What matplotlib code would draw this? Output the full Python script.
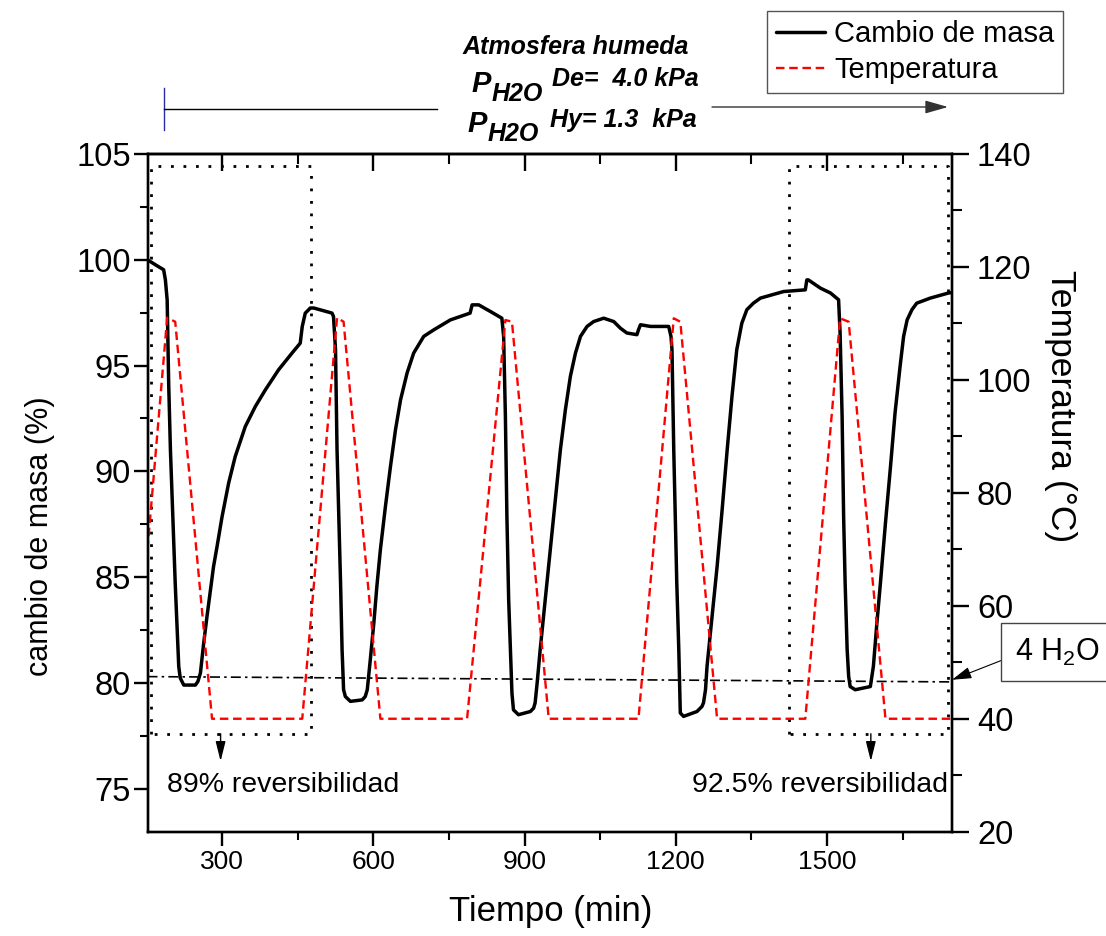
import numpy as np
import matplotlib.pyplot as plt
from matplotlib.lines import Line2D
from matplotlib.patches import FancyArrowPatch
from matplotlib.ticker import MultipleLocator

plt.rcParams['font.family'] = ['Liberation Sans', 'DejaVu Sans']
plt.rcParams['mathtext.fontset'] = 'custom'
plt.rcParams['mathtext.rm'] = 'Liberation Sans'
plt.rcParams['mathtext.sf'] = 'Liberation Sans'

# cambio de masa (%) vs tiempo (min), un tramo por ciclo
t_c1 = [152, 168, 184, 187.5, 191, 194, 197.5, 207, 214, 217, 224, 247, 252, 257, 263.5, 270, 277, 283, 290, 300,
        313, 326, 346, 366, 386, 412, 439, 455, 459, 465, 475, 482, 518]
m_c1 = [100.0, 99.76, 99.53, 99.05, 98.1, 94.17, 91.0, 84.7, 80.77, 80.23, 79.9, 79.9, 80.07, 80.47, 81.89, 83.14, 84.4, 85.5, 86.45, 87.87,
        89.45, 90.7, 92.12, 93.07, 93.86, 94.8, 95.6, 96.06, 96.85, 97.48, 97.72, 97.72, 97.48]
t_c2 = [521, 525, 528, 535, 538, 541, 544.5, 554.5, 578, 584, 588, 594, 601, 607, 614, 624, 634, 644, 654, 667,
        680, 700, 720, 753, 792, 796, 809, 832, 855, 858.5]
m_c2 = [97.32, 95.75, 91.02, 84.72, 81.57, 79.68, 79.36, 79.13, 79.2, 79.36, 79.68, 81.1, 82.83, 84.56, 86.3, 88.34, 90.23, 91.97, 93.38, 94.65,
        95.59, 96.38, 96.69, 97.16, 97.48, 97.87, 97.87, 97.56, 97.24, 96.38]
t_c3 = [862, 865, 868.5, 872, 875, 878, 888, 911.5, 918, 921, 925, 931, 941, 951, 961, 971, 981, 991, 1001, 1011,
        1024, 1037, 1057, 1077, 1090, 1103, 1123, 1126, 1130, 1150, 1186, 1190.5]
m_c3 = [92.6, 87.87, 83.93, 81.57, 79.52, 78.73, 78.5, 78.65, 78.81, 79.06, 80.0, 81.57, 83.93, 86.3, 88.66, 91.0, 92.91, 94.5, 95.59, 96.38,
        96.85, 97.08, 97.24, 97.08, 96.77, 96.54, 96.46, 96.69, 96.93, 96.85, 96.85, 96.38]
t_c4 = [1192.5, 1196, 1202, 1206, 1209, 1215.5, 1242, 1252, 1255, 1259, 1262, 1272, 1282, 1292, 1302, 1311.5, 1321, 1331, 1341, 1354,
        1368, 1414, 1457, 1460]
m_c4 = [95.75, 91.02, 84.74, 81.57, 78.58, 78.42, 78.65, 78.89, 79.06, 79.68, 80.78, 83.14, 85.5, 88.19, 91.02, 93.54, 95.75, 97.0, 97.64, 97.95,
        98.19, 98.5, 98.58, 99.05]
t_c5 = [1463, 1487, 1507, 1523, 1526, 1530, 1533, 1536, 1540, 1543, 1546, 1556, 1586, 1592, 1599, 1606, 1616, 1626, 1635, 1645,
        1652, 1659, 1668.5, 1678, 1705, 1741, 1748]
m_c5 = [99.05, 98.66, 98.43, 98.11, 96.54, 92.6, 87.87, 84.72, 81.57, 80.31, 79.83, 79.68, 79.83, 80.78, 82.83, 84.72, 87.56, 90.23, 92.76, 94.96,
        96.38, 97.16, 97.64, 97.95, 98.19, 98.43, 98.45]

t_mass = t_c1 + t_c2 + t_c3 + t_c4 + t_c5
mass = m_c1 + m_c2 + m_c3 + m_c4 + m_c5

# temperatura (C)
t_temp = [152, 191, 207, 280, 459, 528, 541, 614, 786, 862, 875, 948, 1126, 1196, 1209, 1282, 1457, 1526, 1543, 1616, 1748]
temp = [70, 111, 110.3, 40, 40, 111, 110.3, 40, 40, 110.6, 110.3, 40, 40, 110.9, 110.3, 40, 40, 110.9, 110.3, 40, 40]

# linea de referencia 4 H2O
t_ref = [152, 1748]
mass_ref = [80.3, 80.05]

# cajas de reversibilidad
box1_t = [158, 477]
box2_t = [1424, 1741]
box_mass = [77.6, 104.45]

W, H = 1106, 936


def fp(x, y):
    return x / W, 1 - y / H


fig = plt.figure(figsize=(W / 100, H / 100), dpi=100)
ax = fig.add_axes([147.5 / W, 1 - 831.7 / H, 804.5 / W, 677.7 / H])
ax2 = ax.twinx()

l1, = ax.plot(t_mass, mass, color='k', lw=2.5, solid_joinstyle='round', solid_capstyle='round',
              label='Cambio de masa')
l2, = ax2.plot(t_temp, temp, color='red', lw=1.7, dashes=(3.6, 2.0), label='Temperatura')

ax.plot(t_ref, mass_ref, color='k', lw=1.2, dashes=(6, 2.5, 1.5, 2.5), clip_on=False)

for bt in (box1_t, box2_t):
    ax.plot([bt[0], bt[0], bt[1], bt[1], bt[0]],
            [box_mass[0], box_mass[1], box_mass[1], box_mass[0], box_mass[0]],
            color='k', lw=2, dashes=(1, 3.5), dash_capstyle='butt', clip_on=False)

ax.set_xlim(152, 1748)
ax.set_ylim(72.97, 105)
ax2.set_ylim(20, 140)

ax.xaxis.set_major_locator(MultipleLocator(300))
ax.xaxis.set_minor_locator(MultipleLocator(150))
ax.yaxis.set_major_locator(MultipleLocator(5))
ax.yaxis.set_minor_locator(MultipleLocator(2.5))
ax2.yaxis.set_major_locator(MultipleLocator(20))
ax2.yaxis.set_minor_locator(MultipleLocator(10))

ax.tick_params(axis='x', which='major', direction='out', length=10, width=1.7, labelsize=19, pad=3)
ax.tick_params(axis='x', which='minor', direction='out', length=6, width=1.5)
ax.tick_params(axis='y', which='major', direction='out', length=10, width=1.7, labelsize=23.5, pad=2)
ax.tick_params(axis='y', which='minor', direction='out', length=6, width=1.5)
ax2.tick_params(axis='y', which='major', direction='out', length=12, width=1.7, labelsize=23.5, pad=6)
ax2.tick_params(axis='y', which='minor', direction='out', length=7, width=1.5)

top = ax.secondary_xaxis('top')
top.xaxis.set_major_locator(MultipleLocator(300))
top.xaxis.set_minor_locator(MultipleLocator(150))
top.tick_params(which='major', direction='in', length=12, width=1.7, labeltop=False)
top.tick_params(which='minor', direction='in', length=7, width=1.5)

for a in (ax, ax2, top):
    for s in a.spines.values():
        s.set_linewidth(1.7)

fig.text(*fp(551, 912), 'Tiempo (min)', fontsize=25, ha='center', va='center')
fig.text(*fp(40, 536), 'cambio de masa (%)', fontsize=22, rotation=90, ha='center', va='center')
fig.text(*fp(1060, 406), 'Temperatura (\u00b0C)', fontsize=25.5, rotation=270, ha='center', va='center')

# reversibilidad
ax.text(191.5, 74.86, '89% reversibilidad', fontsize=20.5, va='baseline', ha='left')
ax.text(1740, 74.86, '92.5% reversibilidad', fontsize=20.5, va='baseline', ha='right')
arrow_kw = dict(arrowstyle='-|>,head_length=0.6,head_width=0.15', color='k', lw=1,
                mutation_scale=20, shrinkA=0, shrinkB=0)
ax.annotate('', xy=(297, 76.3), xytext=(297, box_mass[0]), arrowprops=arrow_kw, annotation_clip=False)
ax.annotate('', xy=(1587, 76.3), xytext=(1587, box_mass[0]), arrowprops=arrow_kw, annotation_clip=False)

# 4 H2O
ax.annotate('4 H$_\\mathsf{2}$O', xy=(t_ref[1], mass_ref[1] + 0.1), xycoords='data',
            xytext=fp(1015, 652), textcoords='figure fraction', fontsize=22, ha='left', va='center',
            bbox=dict(boxstyle='square,pad=0.45', fc='white', ec='#444444', lw=1),
            arrowprops=dict(arrowstyle='-|>,head_length=0.6,head_width=0.18', color='k', lw=0.8,
                            mutation_scale=20, shrinkA=0, shrinkB=0, relpos=(0, 0.4)),
            annotation_clip=False)

# leyenda
fig.legend([l1, l2], ['Cambio de masa', 'Temperatura'], loc='upper right',
           bbox_to_anchor=fp(1063, 11), fontsize=21, frameon=True, fancybox=False,
           edgecolor='#555555', framealpha=1, handlelength=1.7, handletextpad=0.3,
           borderpad=0.3, labelspacing=0.3, borderaxespad=0)

# atmosfera humeda
bi = dict(fontweight='bold', fontstyle='italic')
fig.text(*fp(576, 47), 'Atmosfera humeda', fontsize=18, ha='center', va='center', **bi)
fig.text(*fp(471, 92), 'P', fontsize=21, ha='left', va='baseline', **bi)
fig.text(*fp(492, 101), 'H2O', fontsize=18, ha='left', va='baseline', **bi)
fig.text(*fp(552, 86), 'De=  4.0 kPa', fontsize=18, ha='left', va='baseline', **bi)
fig.text(*fp(467, 132), 'P', fontsize=21, ha='left', va='baseline', **bi)
fig.text(*fp(488, 141), 'H2O', fontsize=18, ha='left', va='baseline', **bi)
fig.text(*fp(550, 127), 'Hy= 1.3  kPa', fontsize=18, ha='left', va='baseline', **bi)

fig.add_artist(Line2D([fp(164, 0)[0]] * 2, [fp(0, 88)[1], fp(0, 130)[1]], color='#2b2ba0', lw=1))
fig.add_artist(Line2D([fp(164, 0)[0], fp(437, 0)[0]], [fp(0, 109)[1]] * 2, color='k', lw=1))
fig.add_artist(FancyArrowPatch(fp(712, 107), fp(948, 107), transform=fig.transFigure,
                               arrowstyle='-|>,head_length=0.7,head_width=0.2', mutation_scale=20,
                               color='#333333', lw=1, shrinkA=0, shrinkB=0))

fig.savefig('out.png', dpi=100, facecolor='white')
